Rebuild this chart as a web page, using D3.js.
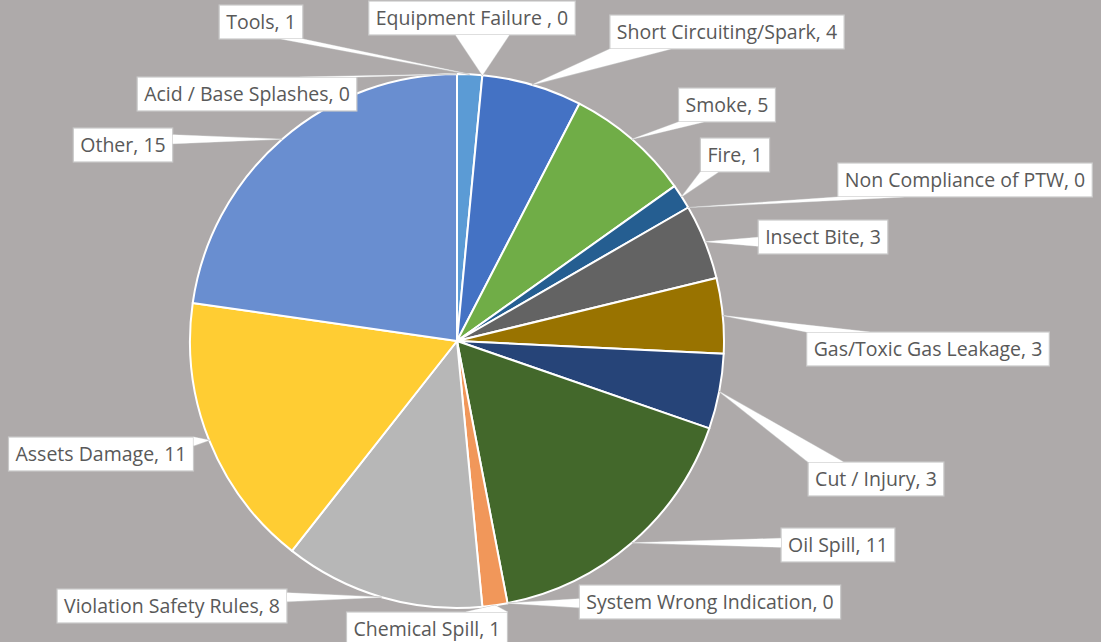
<!DOCTYPE html>
<html>
<head>
<meta charset="utf-8">
<script src="https://cdn.jsdelivr.net/npm/d3@7"></script>
<style>
  html, body { margin: 0; padding: 0; background: #aeaaaa; }
  svg { display: block; }
  .lbl text { font-family: "Open Sans", sans-serif; font-size: 19.5px; fill: #595959; }
</style>
</head>
<body>
<svg id="chart" width="1101" height="642"></svg>
<script>
// data, clockwise from 12 o'clock
const CATEGORIES = [
  "Tools", "Equipment Failure ", "Short Circuiting/Spark", "Smoke", "Fire",
  "Non Compliance of PTW", "Insect Bite", "Gas/Toxic Gas Leakage", "Cut / Injury",
  "Oil Spill", "System Wrong Indication", "Chemical Spill", "Violation Safety Rules",
  "Assets Damage", "Other", "Acid / Base Splashes",
];
const VALUES = [1, 0, 4, 5, 1, 0, 3, 3, 3, 11, 0, 1, 8, 11, 15, 0];
const COLORS = [
  "#5b9bd5", "#ed7d31", "#4472c4", "#70ad47", "#255e91", "#9e480e", "#636363", "#997300",
  "#264478", "#43682b", "#698ed0", "#f1975a", "#b7b7b7", "#ffcd33", "#698ed0", "#a5a5a5",
];

// layout: label box centres (placed by hand like the original)
const LABEL_POS = [
  [261, 22], [472, 18], [727, 32], [727, 105], [735, 155],
  [965, 180], [823, 237], [928, 349], [876, 479], [838, 545],
  [710, 602], [427, 629], [172, 606], [101, 454], [123, 145], [247, 94],
];

const W = 1101, H = 642;
const CX = 457, CY = 341, R = 267;

const svg = d3.select("#chart");

const pie = d3.pie().sort(null).value((d) => d.value);
const arcs = pie(CATEGORIES.map((c, i) => ({ name: c, value: VALUES[i], i })));

const arc = d3.arc().innerRadius(0).outerRadius(R);
const edge = d3.arc().innerRadius(R).outerRadius(R);

const g = svg.append("g").attr("transform", `translate(${CX}, ${CY})`);

g.selectAll(".slice")
  .data(arcs.filter((d) => d.value > 0))
  .join("path")
  .attr("class", "slice")
  .attr("d", arc)
  .attr("fill", (d) => COLORS[d.data.i])
  .attr("stroke", "#fff")
  .attr("stroke-width", 2)
  .attr("stroke-linejoin", "round");

// callouts
const labels = svg.append("g").attr("class", "lbl");

arcs.forEach((d) => {
  const i = d.data.i;
  const [cx, cy] = LABEL_POS[i];
  const lg = labels.append("g");

  const t = lg
    .append("text")
    .attr("x", cx)
    .attr("y", cy)
    .attr("text-anchor", "middle")
    .attr("dy", "0.35em")
    .text(`${d.data.name}, ${d.value}`);

  const tw = t.node().getComputedTextLength();
  const bw = tw + 14, bh = 34;
  const x0 = cx - bw / 2, y0 = cy - bh / 2, x1 = x0 + bw, y1 = y0 + bh;

  const c = edge.centroid(d);
  const tip = [CX + c[0], CY + c[1]];

  // wedge base on the box side facing the tip
  let base;
  if (tip[1] > y1 || tip[1] < y0) {
    const yy = tip[1] > y1 ? y1 : y0;
    const half = bw * 0.13;
    const m = Math.max(x0 + half, Math.min(x1 - half, tip[0]));
    base = [[m - half, yy], [m + half, yy]];
  } else {
    const xx = tip[0] > x1 ? x1 : x0;
    const half = bh * 0.13;
    const m = Math.max(y0 + half, Math.min(y1 - half, tip[1]));
    base = [[xx, m - half], [xx, m + half]];
  }
  const wedge = [base[0], tip, base[1]];
  const line = d3.line();

  lg.insert("path", "text")
    .attr("d", line(wedge))
    .attr("fill", "#fff")
    .attr("stroke", "#c9c9c9")
    .attr("stroke-width", 1.2);

  lg.insert("rect", "text")
    .attr("x", x0)
    .attr("y", y0)
    .attr("width", bw)
    .attr("height", bh)
    .attr("fill", "#fff")
    .attr("stroke", "#c9c9c9")
    .attr("stroke-width", 1.2);

  lg.insert("path", "text")
    .attr("d", line(wedge) + "Z")
    .attr("fill", "#fff");
});
</script>
</body>
</html>
